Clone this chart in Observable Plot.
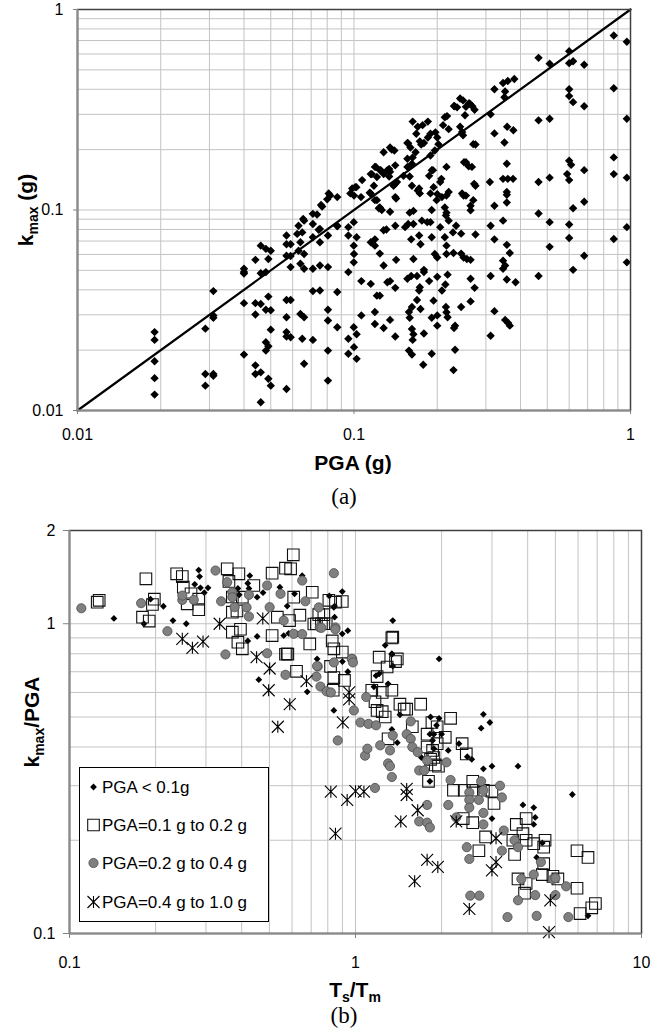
<!DOCTYPE html>
<html><head><meta charset="utf-8">
<script src="https://cdn.jsdelivr.net/npm/d3@7"></script>
<script src="https://cdn.jsdelivr.net/npm/@observablehq/plot@0.6"></script>
<style>
body{margin:0;background:#fff;}
#wrap{position:relative;width:665px;height:1032px;overflow:hidden;background:#fff}
#wrap svg{position:absolute;left:0;overflow:visible}
</style></head><body><div id="wrap"></div>
<script>
// ---------- Panel (a): k_max vs PGA ----------
const panelA = [
[0.019,0.0246],[0.019,0.0225],[0.019,0.0176],[0.019,0.0145],[0.019,0.012],
[0.029,0.0256],[0.029,0.0152],[0.029,0.0133],
[0.031,0.0394],[0.031,0.0298],[0.031,0.029],[0.031,0.0152],[0.031,0.0149],
[0.04,0.0509],[0.04,0.049],[0.04,0.0482],[0.04,0.0343],[0.04,0.019],
[0.044,0.0564],[0.044,0.0343],[0.044,0.0301],[0.044,0.0168],[0.044,0.0152],
[0.046,0.0664],[0.046,0.0484],[0.046,0.034],[0.046,0.0155],[0.046,0.011],
[0.048,0.064],[0.05,0.0626],[0.049,0.057],[0.048,0.049],[0.049,0.037],[0.048,0.0318],[0.05,0.0316],[0.05,0.0253],[0.048,0.0219],[0.049,0.0209],[0.048,0.0199],[0.049,0.0144],[0.05,0.0133],
[0.057,0.0746],[0.057,0.0675],[0.057,0.0591],[0.057,0.0356],[0.057,0.0292],[0.057,0.0246],[0.057,0.0234],[0.057,0.0128],
[0.059,0.0675],[0.059,0.0519],[0.059,0.0356],[0.059,0.0232],[0.059,0.059],
[0.063,0.0834],[0.065,0.0773],[0.064,0.0691],[0.063,0.0626],[0.066,0.0603],[0.064,0.0539],[0.066,0.0509],[0.064,0.0303],[0.066,0.0292],[0.065,0.0228],[0.066,0.0171],
[0.0623,0.076],[0.066,0.0885],[0.0655,0.0902],
[0.071,0.0957],[0.071,0.0851],[0.071,0.0731],[0.071,0.0509],[0.071,0.0394],[0.071,0.0225],
[0.0753,0.0805],[0.0753,0.0691],[0.0753,0.0529],[0.0753,0.0397],
[0.0805,0.0746],[0.0805,0.0519],[0.0805,0.0318],[0.0805,0.0281],[0.0805,0.0199],[0.0805,0.0141],
[0.087,0.0834],[0.087,0.039],[0.087,0.026],
[0.0735,0.095],[0.0745,0.0797],[0.0767,0.104],[0.081,0.121],[0.080,0.113],[0.087,0.116],[0.087,0.0829],[0.076,0.106],
[0.0954,0.0821],[0.0998,0.087],[0.0954,0.0746],[0.1022,0.0731],[0.0998,0.0664],[0.1,0.0603],[0.0998,0.0548],[0.0954,0.049],[0.1063,0.0442],[0.1063,0.0298],[0.0998,0.026],[0.1022,0.024],[0.0954,0.0228],[0.1,0.0207],[0.0954,0.0192],[0.1022,0.0181],
[0.115,0.0691],[0.119,0.0714],[0.119,0.0664],[0.124,0.0606],[0.128,0.0529],[0.115,0.0428],[0.121,0.0374],[0.124,0.0374],[0.119,0.031],[0.119,0.027],[0.128,0.0258],[0.135,0.0283],[0.141,0.0234],[0.128,0.0792],[0.131,0.08],[0.141,0.0834],[0.142,0.0564],[0.132,0.0436],[0.135,0.0442],[0.141,0.0409],[0.153,0.0821],[0.157,0.0851],[0.161,0.0714],[0.164,0.057],[0.156,0.0454],[0.161,0.0469],[0.169,0.0469],[0.173,0.0412],[0.172,0.0397],[0.169,0.0356],[0.162,0.0328],[0.158,0.031],[0.159,0.029],[0.162,0.0255],[0.164,0.024],[0.163,0.0225],[0.158,0.0199],[0.162,0.019],[0.174,0.0321],[0.179,0.0242],[0.178,0.0169],[0.191,0.0192],[0.164,0.0851],[0.172,0.0746],[0.174,0.0675],[0.176,0.0885],[0.184,0.087],[0.191,0.0731],[0.179,0.0503],[0.179,0.049],[0.187,0.0442],[0.194,0.0353],[0.191,0.029],[0.2,0.0298],[0.2,0.0265],[0.189,0.087],[0.196,0.0603],[0.2,0.058],[0.2,0.0464],[0.205,0.0821],[0.208,0.0397],[0.213,0.0731],[0.216,0.0664],[0.216,0.0603],[0.214,0.0425],[0.218,0.0476],[0.215,0.0328],[0.216,0.0309],[0.218,0.0292],[0.215,0.094],[0.22,0.0885],[0.229,0.061],[0.228,0.0773],[0.234,0.0834],[0.232,0.0265],[0.23,0.0258],[0.232,0.0201],[0.229,0.0159],[0.244,0.0762],[0.244,0.0606],[0.244,0.0328],[0.249,0.058],[0.256,0.057],[0.264,0.0564],[0.264,0.0454],[0.264,0.035],[0.275,0.0755],[0.273,0.0409],[0.312,0.0834],[0.312,0.0469],[0.312,0.0236],[0.322,0.0714],[0.322,0.0313],[0.346,0.0885],[0.357,0.067],[0.366,0.061],[0.346,0.0559],[0.352,0.0529],[0.346,0.0509],[0.357,0.045],[0.384,0.0436],[0.352,0.0283],[0.361,0.0273],[0.366,0.0265],[0.465,0.0469],[0.51,0.087],[0.51,0.0655],[0.6,0.0846],[0.6,0.0725],[0.62,0.0503],[0.68,0.0591],[0.87,0.0717],[0.97,0.0821],[0.97,0.0548],
[0.87,0.742],[0.97,0.69],[0.465,0.574],[0.6,0.62],[0.51,0.537],[0.6,0.54],[0.62,0.552],[0.68,0.53],[0.87,0.405],[0.97,0.285],[0.6,0.40],[0.6,0.37],[0.62,0.345],[0.68,0.329],[0.465,0.28],[0.51,0.285],[0.87,0.183],[0.87,0.151],[0.97,0.145],[0.6,0.176],[0.61,0.168],[0.68,0.158],[0.59,0.151],[0.6,0.141],[0.51,0.145],[0.465,0.138],[0.68,0.11],[0.62,0.102],[0.465,0.096],
[0.322,0.40],[0.346,0.43],[0.36,0.44],[0.38,0.45],[0.352,0.39],[0.35,0.365],[0.312,0.30],[0.322,0.241],[0.358,0.26],[0.377,0.25],[0.35,0.217],[0.27,0.213],[0.275,0.212],[0.254,0.173],[0.267,0.164],[0.272,0.135],[0.31,0.138],[0.357,0.17],[0.346,0.143],[0.36,0.143],[0.376,0.143],[0.357,0.123],[0.357,0.119],[0.357,0.109],[0.322,0.105],[0.27,0.112],[0.264,0.105],[0.246,0.121],[0.254,0.118],[0.216,0.097],[0.213,0.103],[0.159,0.097],[0.164,0.099],[0.135,0.098],[0.124,0.103],[0.121,0.112],[0.106,0.116],[0.115,0.121],[0.118,0.132],[0.1,0.118],[0.097,0.121],[0.082,0.118],[0.101,0.13],[0.107,0.141],[0.115,0.151],[0.119,0.164],[0.124,0.158],[0.128,0.151],[0.132,0.158],[0.135,0.155],[0.121,0.146],[0.128,0.194],[0.135,0.205],[0.14,0.198],[0.141,0.167],[0.143,0.138],[0.142,0.114],[0.156,0.216],[0.16,0.205],[0.163,0.276],[0.17,0.26],[0.177,0.265],[0.185,0.276],[0.168,0.24],[0.173,0.22],[0.175,0.212],[0.179,0.216],[0.185,0.23],[0.189,0.24],[0.197,0.244],[0.2,0.23],[0.202,0.213],[0.196,0.198],[0.189,0.187],[0.167,0.194],[0.163,0.183],[0.162,0.17],[0.156,0.164],[0.159,0.147],[0.162,0.132],[0.17,0.125],[0.173,0.121],[0.187,0.148],[0.193,0.158],[0.205,0.138],[0.216,0.164],[0.22,0.123],[0.189,0.121],[0.199,0.112],[0.208,0.116],[0.213,0.29],[0.217,0.294],[0.21,0.265],[0.22,0.253],[0.231,0.329],[0.236,0.325],[0.242,0.36],[0.248,0.352],[0.254,0.327],[0.262,0.34],[0.268,0.329],[0.273,0.316],[0.252,0.297],[0.242,0.26],[0.246,0.245],[0.248,0.236],
[0.0985,0.128],[0.102,0.13],[0.114,0.122],[0.116,0.151],[0.12,0.164],[0.125,0.158],[0.137,0.2],[0.134,0.16],[0.134,0.147],[0.119,0.112],[0.123,0.102],[0.126,0.1],[0.141,0.135],[0.141,0.116],[0.157,0.215],[0.156,0.18],[0.172,0.128],[0.191,0.158],[0.207,0.143],[0.194,0.13],[0.2,0.12],[0.191,0.1],[0.216,0.118],[0.25,0.173],[0.26,0.165],[0.275,0.132],[0.249,0.118],[0.264,0.0996],[0.23,0.33],[0.26,0.34],[0.151,0.148],[0.139,0.132]
];
const oneToOne = [0.01, 1];
const ticksA = [0.01, 0.1, 1];
const gridA = [0.01,0.02,0.03,0.04,0.05,0.06,0.07,0.08,0.09,0.1,0.2,0.3,0.4,0.5,0.6,0.7,0.8,0.9,1];

// ---------- Panel (b): k_max/PGA vs Ts/Tm ----------
const seriesLow = [ // PGA < 0.1g
[0.143,1.04],[0.182,1.0],[0.192,1.2],[0.213,1.139],[0.23,1.024],[0.256,1.0],[0.283,1.49],[0.285,1.42],[0.274,1.34],[0.287,1.306],[0.305,1.306],[0.296,1.26],[0.427,1.43],[0.42,1.35],[0.424,1.3],[0.388,1.3],[0.392,1.24],[0.453,1.218],[0.475,1.26],[0.544,1.312],[0.577,1.14],[0.612,1.249],[0.651,1.43],[0.42,0.88],[0.453,0.91],[0.561,0.916],[0.584,0.931],[0.608,0.928],[0.624,0.928],
[0.899,1.27],[0.845,1.14],[0.845,1.05],[0.899,0.928],[0.94,0.95],[1.35,1.024],[1.27,0.852],[1.34,0.8],[1.96,0.77],[0.81,1.23],[0.84,1.13],
[0.459,0.66],[0.678,0.603],[0.734,0.77],
[1.34,0.796],[1.35,0.73],[1.21,0.689],[1.18,0.68],[1.16,0.626],[1.30,0.64],[0.84,0.525],[1.34,0.456],[1.40,0.413],[1.43,0.508],[1.7,0.37],[1.83,0.5],[1.96,0.495],[1.92,0.47],[1.88,0.44],[2.0,0.44],[1.82,0.44],[1.86,0.42],[1.88,0.395],[1.82,0.31],[2.11,0.39],[2.3,0.41],[2.46,0.372],[2.55,0.365],[2.8,0.34],[3.0,0.347],[3.7,0.347],[2.8,0.51],[2.95,0.48],[2.75,0.46],[5.73,0.281],[0.9,0.755],[0.94,0.7],
[2.75,0.3],[3.0,0.235],[3.85,0.26],[4.2,0.255],[4.2,0.225],[4.25,0.237],[4.5,0.196],[4.3,0.176],[6.5,0.114]
];
const seriesMid = [ // PGA = 0.1 g to 0.2 g
[0.125,1.174],[0.127,1.19],[0.185,1.396],[0.18,1.05],[0.19,1.02],[0.198,1.2],[0.195,1.154],[0.237,1.449],[0.248,1.42],[0.25,1.312],[0.266,1.25],[0.258,1.16],[0.283,1.2],[0.283,1.11],[0.356,1.504],[0.391,1.449],[0.361,1.37],[0.371,1.22],[0.402,1.218],[0.441,1.329],[0.371,1.09],[0.385,1.10],[0.371,0.939],[0.396,0.96],[0.388,0.872],[0.402,0.83],[0.511,1.456],[0.569,1.512],[0.593,1.504],[0.606,1.669],[0.608,1.218],[0.706,1.264],[0.533,1.05],[0.588,1.024],[0.639,1.066],[0.715,0.998],[0.744,1.07],[0.775,1.0],[0.807,1.19],[0.851,1.174],[0.511,0.916],[0.577,0.8],[0.692,0.861],[0.829,0.88],
[0.899,1.18],[0.899,0.81],[1.35,0.905],[1.21,0.78],[1.40,0.77],
[0.622,0.702],[0.569,0.797],[0.58,0.797],[0.775,1.07],[0.73,1.0],[0.76,1.0],[0.79,1.0],
[0.84,0.83],[0.915,0.656],[1.38,0.755],[1.29,0.725],[1.19,0.675],[1.14,0.61],[1.34,0.61],[1.24,0.6],[1.17,0.56],[1.19,0.525],[1.24,0.52],[1.27,0.5],[1.30,0.425],[1.43,0.55],[1.48,0.53],[1.51,0.53],[1.69,0.55],[1.58,0.465],[1.78,0.4],[1.83,0.365],[1.78,0.44],[1.85,0.48],[1.93,0.465],[2.06,0.43],[2.15,0.495],[1.93,0.41],[1.86,0.39],[1.88,0.37],[1.9,0.35],[1.95,0.347],[1.8,0.31],[2.36,0.41],[2.44,0.38],[2.2,0.29],
[0.818,0.728],[0.84,0.67],[0.836,0.61],[1.34,0.9],
[2.38,0.235],[2.57,0.228],[2.4,0.29],[2.57,0.31],[2.58,0.29],[2.8,0.29],[3.0,0.288],[3.05,0.263],[2.85,0.205],[2.7,0.185],[3.6,0.18],[3.55,0.2],[3.85,0.21],[3.95,0.2],[3.95,0.235],[3.65,0.225],[4.2,0.195],[4.6,0.2],[4.55,0.19],[5.95,0.185],[6.5,0.176],[4.55,0.168],[4.5,0.155],[3.7,0.15],[3.95,0.145],[3.9,0.135],[4.9,0.153],[5.1,0.15],[5.95,0.14],[6.1,0.116],[6.7,0.121],[6.9,0.125]
];
const seriesHigh = [ // PGA = 0.2 g to 0.4 g
[0.11,1.122],[0.178,1.165],[0.22,0.946],[0.248,1.194],[0.248,1.233],[0.272,1.194],[0.324,1.485],[0.339,1.182],[0.356,1.362],[0.371,1.264],[0.371,1.218],[0.378,1.131],[0.416,1.129],[0.424,1.055],[0.424,1.24],[0.491,1.329],[0.501,1.131],[0.547,1.249],[0.561,1.024],[0.651,1.379],[0.668,1.182],[0.744,1.129],[0.75,0.973],[0.84,1.456],[0.851,0.973],[0.351,0.796],[0.491,0.803],[0.608,0.928],[0.651,0.926],
[0.974,0.77],[0.569,0.684],[0.73,0.675],[0.738,0.728],[0.754,0.627],[0.792,0.605],[0.734,0.73],[0.76,0.97],[0.85,0.96],
[0.84,0.75],[0.97,0.77],[0.98,0.75],[0.82,0.6],[1.09,0.58],[0.987,0.525],[1.04,0.48],[1.11,0.475],[1.18,0.47],[0.867,0.42],[1.08,0.375],[1.10,0.395],[1.22,0.405],[1.3,0.354],[1.32,0.347],[1.32,0.39],[1.34,0.32],[1.35,0.436],[1.56,0.484],[1.51,0.44],[1.56,0.425],[1.58,0.40],[1.65,0.385],[1.67,0.336],[1.74,0.336],[1.78,0.362],[2.08,0.357],[2.15,0.313],[1.17,0.295],[1.78,0.26],[1.67,0.23],[1.78,0.228],[1.82,0.22],[2.11,0.26],
[2.25,0.237],[2.52,0.1325],[2.71,0.1325],[2.5,0.285],[2.5,0.27],[2.7,0.27],[2.75,0.31],[2.8,0.29],[2.5,0.255],[3.2,0.3],[3.25,0.275],[2.8,0.245],[2.8,0.225],[3.3,0.215],[2.45,0.19],[2.5,0.174],[3.25,0.185],[3.6,0.2],[3.7,0.19],[4.45,0.17],[3.8,0.15],[4.2,0.155],[4.25,0.133],[3.7,0.128],[4.9,0.15],[5.0,0.151],[5.45,0.142],[5.0,0.133],[3.4,0.113],[4.3,0.114],[5.55,0.113]
];
const seriesTop = [ // PGA = 0.4 g to 1.0 g
[0.335,1.0],[0.248,0.894],[0.269,0.836],[0.293,0.876],[0.474,1.04],[0.451,0.78],[0.501,0.717],[0.497,0.61],[0.589,0.55],[0.535,0.465],[0.674,0.653],[0.851,0.21],[0.95,0.6],[0.95,0.57],[0.903,0.48],[0.82,0.287],[0.935,0.27],[1.0,0.288],[1.07,0.287],[1.51,0.293],[1.51,0.28],[1.65,0.25],[1.44,0.23],[2.25,0.23],[1.78,0.173],[1.94,0.164],[1.61,0.1475],[2.5,0.12],[3.1,0.203],[3.1,0.17],[3.0,0.16],[4.8,0.128],[4.75,0.101]
];
const legendLabels = ["PGA < 0.1g","PGA=0.1 g to 0.2 g","PGA=0.2 g to 0.4 g","PGA=0.4 g to 1.0 g"];
const ticksBx = [0.1, 1, 10];
const ticksBy = [0.1, 1, 2];
const gridBx = [0.1,0.2,0.3,0.4,0.5,0.6,0.7,0.8,0.9,1,2,3,4,5,6,7,8,9,10];
const gridBy = [0.1,0.2,0.3,0.4,0.5,0.6,0.7,0.8,0.9,1,2];

// ---------- symbols ----------
function shape(kind){
  return {draw(ctx,size){
    const r=Math.sqrt(size/Math.PI);
    if(kind==="diamond"){ctx.moveTo(0,-r);ctx.lineTo(r,0);ctx.lineTo(0,r);ctx.lineTo(-r,0);ctx.closePath();}
    else if(kind==="square"){ctx.moveTo(-r,-r);ctx.lineTo(r,-r);ctx.lineTo(r,r);ctx.lineTo(-r,r);ctx.closePath();}
    else if(kind==="circle"){ctx.moveTo(r,0);ctx.arc(0,0,r,0,2*Math.PI);}
    else {ctx.moveTo(-r,-r);ctx.lineTo(r,r);ctx.moveTo(-r,r);ctx.lineTo(r,-r);ctx.moveTo(0,-r);ctx.lineTo(0,r);}
  }};
}
const FONT = "'Liberation Sans', Arial, Helvetica, sans-serif";
const GRID = "#c3c3c3";
const styleB = [
  {data: seriesLow,  sym: shape("diamond"), r: 3.4, fill: "#000", stroke: "none", sw: 0},
  {data: seriesMid,  sym: shape("square"),  r: 5.8, fill: "none", stroke: "#111", sw: 1.1},
  {data: seriesHigh, sym: shape("circle"),  r: 4.6, fill: "#808080", stroke: "#4d4d4d", sw: 0.8},
  {data: seriesTop,  sym: shape("star"),    r: 6.0, fill: "none", stroke: "#000", sw: 1.1}
];

const wrap = document.getElementById("wrap");

// ---------- Plot (a) ----------
const plotA = Plot.plot({
  width: 665, height: 520,
  marginTop: 9, marginBottom: 110, marginLeft: 77, marginRight: 35,
  style: {fontFamily: FONT, fontSize: "16px", color: "#000", background: "transparent"},
  x: {type: "log", domain: [0.01, 1]},
  y: {type: "log", domain: [0.01, 1]},
  marks: [
    Plot.ruleX(gridA, {stroke: GRID, strokeWidth: 1}),
    Plot.ruleY(gridA, {stroke: GRID, strokeWidth: 1}),
    Plot.line(oneToOne, {x: d => d, y: d => d, stroke: "#000", strokeWidth: 2.2}),
    Plot.dot(panelA, {x: d => d[0], y: d => d[1], symbol: shape("diamond"), r: 4.2, fill: "#000", stroke: "none"}),
    Plot.frame({stroke: "#404040", strokeWidth: 1.5}),
    Plot.ruleX([0.01], {stroke: "#8a8a8a", strokeWidth: 2}),
    Plot.ruleY([0.01], {stroke: "#8a8a8a", strokeWidth: 2}),
    Plot.axisX({ticks: ticksA, tickSize: 4, tickPadding: 14, stroke: "#808080", fill: "#000", tickFormat: d => String(d), label: null}),
    Plot.axisY({ticks: ticksA, tickSize: 4, tickPadding: 10, stroke: "#808080", fill: "#000", tickFormat: d => String(d), label: null})
  ]
});
plotA.style.top = "0px";
wrap.appendChild(plotA);

// ---------- Plot (b) ----------
const plotB = Plot.plot({
  width: 665, height: 512,
  marginTop: 10, marginBottom: 99, marginLeft: 69, marginRight: 24,
  style: {fontFamily: FONT, fontSize: "16px", color: "#000", background: "transparent"},
  x: {type: "log", domain: [0.1, 10]},
  y: {type: "log", domain: [0.1, 2]},
  marks: [
    Plot.ruleX(gridBx, {stroke: GRID, strokeWidth: 1}),
    Plot.ruleY(gridBy, {stroke: GRID, strokeWidth: 1}),
    ...styleB.map(s => Plot.dot(s.data, {x: d => d[0], y: d => d[1], symbol: s.sym, r: s.r, fill: s.fill, stroke: s.stroke, strokeWidth: s.sw})),
    Plot.frame({stroke: "#404040", strokeWidth: 1.5}),
    Plot.ruleX([0.1], {stroke: "#8a8a8a", strokeWidth: 2}),
    Plot.ruleY([0.1], {stroke: "#8a8a8a", strokeWidth: 2}),
    Plot.axisX({ticks: ticksBx, tickSize: 5, tickPadding: 18, stroke: "#808080", fill: "#000", tickFormat: d => String(d), label: null}),
    Plot.axisY({ticks: ticksBy, tickSize: 6, tickPadding: 8, stroke: "#808080", fill: "#000", tickFormat: d => String(d), label: null})
  ]
});
plotB.style.top = "520px";
wrap.appendChild(plotB);

// ---------- titles with subscripts ----------
function rich(svg, x, y, parts, opts = {}) {
  const size = opts.size || 21;
  const t = svg.append("text")
    .attr("font-family", opts.family || FONT)
    .attr("font-weight", opts.weight || "bold")
    .attr("font-size", size)
    .attr("text-anchor", "middle")
    .attr("fill", "#000");
  if (opts.rotate) t.attr("transform", `translate(${x},${y}) rotate(-90)`);
  else t.attr("x", x).attr("y", y);
  let shifted = false;
  for (const p of parts) {
    const s = t.append("tspan").text(p.t);
    if (p.sub) { s.attr("font-size", 14); if (!shifted) { s.attr("dy", 5); shifted = true; } }
    else if (shifted) { s.attr("dy", -5); shifted = false; }
  }
  return t;
}
const sA = d3.select(plotA);
rich(sA, 353, 470, [{t: "PGA (g)"}]);
rich(sA, 344, 504, [{t: "(a)"}], {family: "'Liberation Serif', 'Times New Roman', serif", weight: "normal", size: 23});
rich(sA, 33, 210, [{t: "k"}, {t: "max", sub: true}, {t: " (g)"}], {rotate: true});

const sB = d3.select(plotB);
rich(sB, 355, 477, [{t: "T"}, {t: "s", sub: true}, {t: "/T"}, {t: "m", sub: true}]);
rich(sB, 344, 503, [{t: "(b)"}], {family: "'Liberation Serif', 'Times New Roman', serif", weight: "normal", size: 23});
rich(sB, 39, 202, [{t: "k"}, {t: "max", sub: true}, {t: "/PGA"}], {rotate: true});

// ---------- legend (b) ----------
const lg = sB.append("g").attr("text-anchor", "start");
lg.append("rect").attr("x", 79.5).attr("y", 247.5).attr("width", 189).attr("height", 154)
  .attr("fill", "#fff").attr("stroke", "#000").attr("stroke-width", 1);
const rowsY = [267, 305, 343, 382];
legendLabels.forEach((lab, i) => {
  const s = styleB[i];
  lg.append("path")
    .attr("d", d3.symbol(s.sym, Math.PI * s.r * s.r)())
    .attr("transform", `translate(93.5,${rowsY[i]})`)
    .attr("fill", s.fill).attr("stroke", s.stroke).attr("stroke-width", s.sw);
  lg.append("text").attr("x", 102).attr("y", rowsY[i]).attr("dy", "0.36em")
    .attr("text-anchor", "start")
    .attr("font-family", FONT).attr("font-size", 17).attr("fill", "#000").text(lab);
});
</script></body></html>
